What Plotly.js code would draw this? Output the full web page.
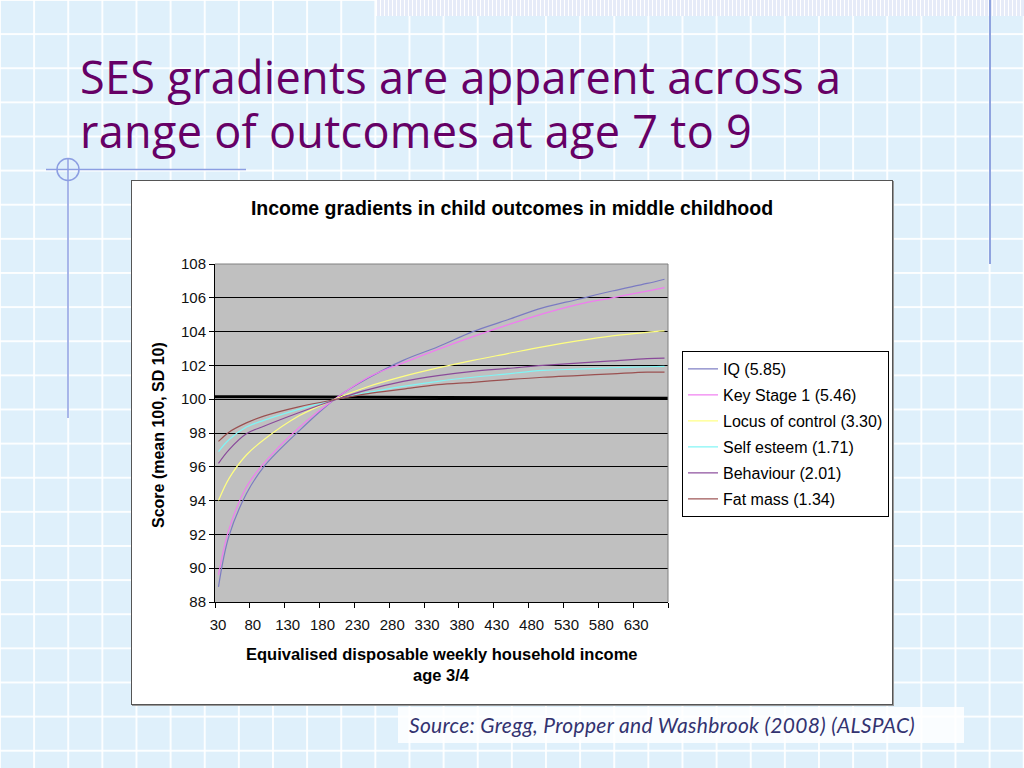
<!DOCTYPE html>
<html>
<head>
<meta charset="utf-8">
<script src="https://cdn.plot.ly/plotly-3.0.1.min.js"></script>
<style>
  html, body { margin:0; padding:0; }
  body {
    width:1024px; height:768px; overflow:hidden; position:relative;
    background-color:#dff0fb;
    background-image:
      linear-gradient(to right, rgba(255,255,255,0.9) 2px, transparent 2px),
      linear-gradient(to bottom, rgba(255,255,255,0.9) 2px, transparent 2px);
    background-size:34.133px 34.133px;
    background-position:-1px -1px;
  }
  .strip {
    position:absolute; left:376px; top:0; width:648px; height:16px;
    background-color:#e6ebf8;
    background-image:repeating-linear-gradient(to right, #fff 0 1px, transparent 1px 4px);
  }
  .vline { position:absolute; left:989px; top:0; width:2px; height:264px; background:#8fa3df; }
  .deco { position:absolute; left:0; top:0; }
  .slide-title {
    position:absolute; left:80px; top:50px;
    font-family:"Open Sans", "Noto Sans", sans-serif; font-size:45px; line-height:54px;
    letter-spacing:0.3px; color:#660066;
  }
  .chart-box {
    position:absolute; left:131px; top:180px; width:760px; height:523px;
    background:#fff; border:1px solid #555; box-shadow:1px 1px 0 #999;
  }
  #chart { width:760px; height:523px; }
  .source {
    position:absolute; left:398px; top:707px; width:566px; height:36px;
    background:rgba(255,255,255,0.85);
    font-family:Lato, "Open Sans", sans-serif; font-style:italic; font-size:21px; line-height:36px;
    letter-spacing:0.3px; color:#333370; padding-left:11px; box-sizing:border-box;
  }
</style>
</head>
<body>
<div class="strip"></div>
<div class="vline"></div>
<svg class="deco" width="260" height="430">
  <line x1="46" y1="169.5" x2="246" y2="169.5" stroke="#8c9ee2" stroke-width="1.5"/>
  <line x1="68" y1="158" x2="68" y2="418" stroke="#8c9ee2" stroke-width="1.5"/>
  <circle cx="68" cy="169.5" r="11" fill="none" stroke="#8c9ee2" stroke-width="1.5"/>
</svg>
<div class="slide-title">SES gradients are apparent across a<br>range of outcomes at age 7 to 9</div>
<div class="chart-box"><div id="chart"></div></div>
<div class="source">Source: Gregg, Propper and Washbrook (2008) (ALSPAC)</div>

<script>
// income (x) and outcome scores
const income = [35, 50, 75, 100, 150, 205, 250, 300, 350, 400, 450, 500, 550, 600, 650, 675];
const iq        = [88.9, 91.9, 94.4, 96.0, 98.1, 100.1, 101.25, 102.3, 103.1, 104.0, 104.7, 105.4, 105.9, 106.4, 106.85, 107.1];
const keyStage1 = [89.6, 92.3, 94.8, 96.2, 98.3, 100.1, 101.3, 102.15, 102.95, 103.7, 104.4, 105.05, 105.6, 106.0, 106.4, 106.6];
const locus     = [94.0, 95.3, 96.7, 97.6, 99.0, 100.05, 100.75, 101.35, 101.85, 102.3, 102.7, 103.1, 103.45, 103.75, 103.96, 104.04];
const selfEsteem= [96.9, 97.6, 98.35, 98.75, 99.4, 100.0, 100.4, 100.76, 101.06, 101.3, 101.5, 101.7, 101.78, 101.86, 101.92, 101.94];
const behaviour = [96.2, 97.0, 97.95, 98.4, 99.2, 100.0, 100.57, 101.06, 101.4, 101.65, 101.82, 102.0, 102.14, 102.27, 102.4, 102.43];
const fatMass   = [97.5, 98.05, 98.6, 99.0, 99.55, 100.0, 100.33, 100.6, 100.86, 101.0, 101.16, 101.3, 101.4, 101.5, 101.6, 101.6];
const meanX = [30, 680];
const meanY = [100.15, 100.05];

const seriesNames = ['IQ (5.85)', 'Key Stage 1 (5.46)', 'Locus of control (3.30)',
                     'Self esteem (1.71)', 'Behaviour (2.01)', 'Fat mass (1.34)'];
const seriesData = [iq, keyStage1, locus, selfEsteem, behaviour, fatMass];
const seriesColors = ['#7b7bc2', '#f07cf0', '#ffff80', '#7ff5f5', '#8a4a9a', '#9a5050'];

const xTicks = [30, 80, 130, 180, 230, 280, 330, 380, 430, 480, 530, 580, 630, 680];
const xTickText = ['30','80','130','180','230','280','330','380','430','480','530','580','630',''];

const FONT = 'Liberation Sans, Arial, sans-serif';

const traces = [{
  x: meanX, y: meanY, type: 'scatter', mode: 'lines',
  line: { color: '#000', width: 3 }, showlegend: false, hoverinfo: 'skip'
}];
seriesData.forEach((ys, i) => {
  traces.push({
    x: income, y: ys, type: 'scatter', mode: 'lines',
    name: seriesNames[i], legendgroup: 'g' + i,
    line: { color: seriesColors[i], width: 1.2, shape: 'spline' }
  });
});

const layout = {
  width: 760, height: 523,
  paper_bgcolor: '#fff', plot_bgcolor: '#c0c0c0',
  margin: { l: 83, r: 224, t: 83, b: 102 },
  font: { family: FONT, color: '#000' },
  title: {
    text: 'Income gradients in child outcomes in middle childhood',
    font: { family: FONT, size: 19.5, weight: 'bold', color: '#000' },
    x: 0.5, xref: 'container', y: 0.948, yref: 'container', yanchor: 'middle'
  },
  xaxis: {
    range: [30, 680], tickvals: xTicks, ticktext: xTickText,
    ticks: 'outside', ticklen: 5, tickcolor: '#000',
    showline: true, linecolor: '#000', linewidth: 1,
    showgrid: false, zeroline: false,
    tickfont: { family: FONT, size: 15, color: '#111' },
    ticklabelstandoff: 4, ticklabelshift: 3
  },
  yaxis: {
    range: [88, 108], tick0: 88, dtick: 2,
    ticks: 'outside', ticklen: 5, tickcolor: '#000',
    showline: true, linecolor: '#000', linewidth: 1,
    showgrid: true, gridcolor: '#000', gridwidth: 1, zeroline: false,
    tickfont: { family: FONT, size: 15, color: '#111' }
  },
  legend: {
    xref: 'container', yref: 'container',
    x: 0.7237, xanchor: 'left', y: 0.675, yanchor: 'top',
    bgcolor: '#fff', bordercolor: '#000', borderwidth: 1,
    font: { family: FONT, size: 16, color: '#000' },
    traceorder: 'grouped', tracegroupgap: 2.2
  },
  shapes: [
    { type: 'line', xref: 'paper', yref: 'paper', x0: 0, x1: 1, y0: 1, y1: 1, line: { color: '#808080', width: 1 } },
    { type: 'line', xref: 'paper', yref: 'paper', x0: 1, x1: 1, y0: 0, y1: 1, line: { color: '#808080', width: 1 } }
  ],
  annotations: [
    { text: 'Score (mean 100, SD 10)', textangle: -90, showarrow: false,
      xref: 'paper', yref: 'paper', x: 0, y: 0.494, xanchor: 'center', yanchor: 'middle', xshift: -57,
      font: { family: FONT, size: 16, weight: 'bold', color: '#000' } },
    { text: 'Equivalised disposable weekly household income', showarrow: false,
      xref: 'paper', yref: 'paper', x: 0.5, y: 0, xanchor: 'center', yanchor: 'middle', yshift: -52,
      font: { family: FONT, size: 16.5, weight: 'bold', color: '#000' } },
    { text: 'age 3/4', showarrow: false,
      xref: 'paper', yref: 'paper', x: 0.5, y: 0, xanchor: 'center', yanchor: 'middle', yshift: -73,
      font: { family: FONT, size: 16.5, weight: 'bold', color: '#000' } }
  ]
};

Plotly.newPlot('chart', traces, layout, { displayModeBar: false, staticPlot: true });
</script>
</body>
</html>
